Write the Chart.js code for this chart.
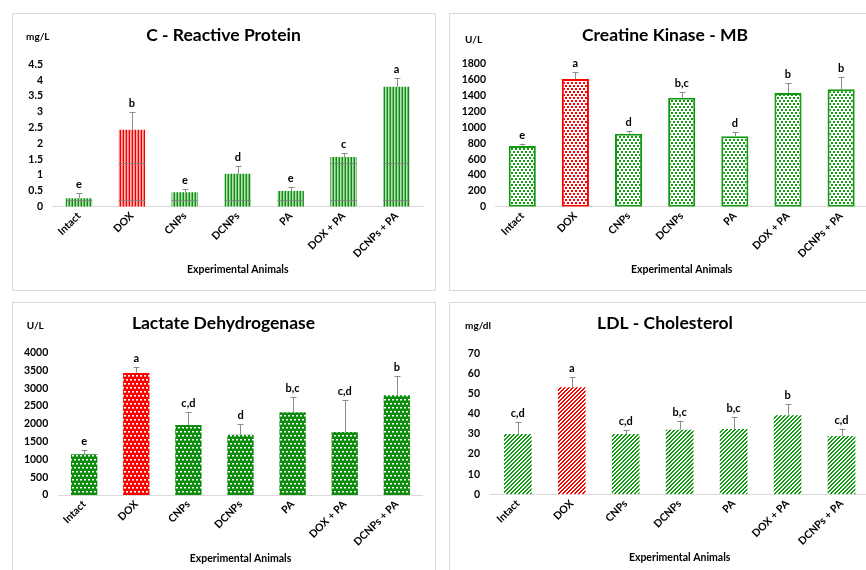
<!DOCTYPE html>
<html>
<head>
<meta charset="utf-8">
<title>Serum biomarkers</title>
<script src="https://cdn.jsdelivr.net/npm/chart.js@4.4.1/dist/chart.umd.min.js"></script>
<style>
  html, body { margin: 0; padding: 0; background: #fff; }
  body { width: 866px; height: 570px; overflow: hidden; position: relative; }
  .frame { position: absolute; border: 1px solid #d9d9d9; box-sizing: border-box; }
  canvas { position: absolute; }
</style>
</head>
<body>
<div class="frame" style="left:12px;top:13px;width:424px;height:278px"></div>
<div class="frame" style="left:449px;top:13px;width:440px;height:278px"></div>
<div class="frame" style="left:12px;top:302px;width:424px;height:300px"></div>
<div class="frame" style="left:449px;top:302px;width:440px;height:300px"></div>
<canvas id="crp"  width="423" height="277" style="left:12px;top:13px"></canvas>
<canvas id="ckmb" width="432" height="277" style="left:449px;top:13px"></canvas>
<canvas id="ldh"  width="423" height="280" style="left:12px;top:302px"></canvas>
<canvas id="ldl"  width="432" height="280" style="left:449px;top:302px"></canvas>

<script>
// ---- data ----
const groups = ['Intact', 'DOX', 'CNPs', 'DCNPs', 'PA', 'DOX + PA', 'DCNPs + PA'];

const crpMean    = [0.27, 2.43, 0.46, 1.04, 0.50, 1.57, 3.79];
const crpSD      = [0.15, 0.56, 0.09, 0.25, 0.11, 0.13, 0.28];
const crpLetters = ['e', 'b', 'e', 'd', 'e', 'c', 'a'];

const ckmbMean    = [766, 1611, 921, 1375, 888, 1434, 1481];
const ckmbSD      = [29, 84, 30, 68, 50, 126, 159];
const ckmbLetters = ['e', 'a', 'd', 'b,c', 'd', 'b', 'b'];

const ldhMean    = [1144, 3430, 1968, 1696, 2324, 1771, 2802];
const ldhSD      = [112, 159, 356, 291, 422, 899, 543];
const ldhLetters = ['e', 'a', 'c,d', 'd', 'b,c', 'c,d', 'b'];

const ldlMean    = [29.9, 53.1, 29.9, 32.1, 32.4, 39.2, 28.9];
const ldlSD      = [5.8, 5.1, 2.0, 4.4, 6.1, 5.5, 3.7];
const ldlLetters = ['c,d', 'a', 'c,d', 'b,c', 'b,c', 'b', 'c,d'];

// horizontal rules that run across the CRP bars
const crpRuleLevels = [0.21, 1.38];

// ---- colours & fill patterns ----
const GREEN = '#109a10';
const RED = '#ff0000';
const FONT = 'Lato, "Open Sans", sans-serif';

function tile(w, h, paint) {
  const c = document.createElement('canvas');
  c.width = w; c.height = h;
  const g = c.getContext('2d');
  paint(g);
  return g.createPattern(c, 'repeat');
}
function stripes(dark, light, mid) {
  return tile(3, 1, g => {
    g.fillStyle = dark;  g.fillRect(0, 0, 1, 1);
    g.fillStyle = light; g.fillRect(1, 0, 1, 1);
    g.fillStyle = mid;   g.fillRect(2, 0, 1, 1);
  });
}
function confetti(color) {
  return tile(4, 6, g => {
    g.fillStyle = '#fff'; g.fillRect(0, 0, 4, 6);
    g.fillStyle = color;
    g.fillRect(0, 0, 2, 2);
    g.fillRect(2, 3, 2, 2);
  });
}
function dottedGrid(color, soft) {
  return tile(4, 8, g => {
    g.fillStyle = color; g.fillRect(0, 0, 4, 8);
    g.fillStyle = '#fff';
    g.fillRect(0, 1, 2, 1); g.fillRect(2, 5, 2, 1);
    g.fillStyle = soft;
    g.fillRect(0, 2, 2, 1); g.fillRect(2, 6, 2, 1);
  });
}
function diagonal(color) {
  return tile(4, 4, g => {
    g.fillStyle = '#fff'; g.fillRect(0, 0, 4, 4);
    g.fillStyle = color;
    for (let y = 0; y < 4; y++)
      for (let x = 0; x < 4; x++)
        if ((x + y) % 4 < 2) g.fillRect(x, y, 1, 1);
  });
}
function perBar(redFill, greenFill) {
  return groups.map((_, i) => (i === 1 ? redFill : greenFill));
}

// ---- plugins ----
const errorBarsAndLetters = {
  id: 'errorBarsAndLetters',
  afterDatasetsDraw(chart, args, opts) {
    const ctx = chart.ctx;
    const meta = chart.getDatasetMeta(0);
    const y = chart.scales.y;
    ctx.save();
    meta.data.forEach((bar, i) => {
      // rules across the bar body
      (opts.rules || []).forEach(level => {
        if (level < opts.mean[i]) {
          const py = Math.round(y.getPixelForValue(level)) + 0.5;
          ctx.strokeStyle = 'rgba(128,128,128,0.8)';
          ctx.lineWidth = 1;
          ctx.beginPath();
          ctx.moveTo(bar.x - bar.width / 2, py);
          ctx.lineTo(bar.x + bar.width / 2, py);
          ctx.stroke();
        }
      });
      const top = y.getPixelForValue(opts.mean[i] + opts.sd[i]);
      const x = Math.round(bar.x) + 0.5;
      ctx.strokeStyle = '#8c8c8c';
      ctx.lineWidth = 1;
      ctx.beginPath();
      ctx.moveTo(x, bar.y);
      ctx.lineTo(x, top);
      ctx.moveTo(x - 3, Math.round(top) + 0.5);
      ctx.lineTo(x + 3, Math.round(top) + 0.5);
      ctx.stroke();
      ctx.fillStyle = '#000';
      ctx.font = 'bold 11px ' + FONT;
      ctx.textAlign = 'center';
      ctx.textBaseline = 'bottom';
      ctx.fillText(opts.letters[i], bar.x, top - 3);
    });
    ctx.restore();
  }
};

const panelText = {
  id: 'panelText',
  afterDraw(chart, args, opts) {
    const ctx = chart.ctx;
    ctx.save();
    ctx.fillStyle = '#000';
    ctx.textBaseline = 'middle';
    ctx.font = 'bold 17.5px ' + FONT;
    ctx.textAlign = 'center';
    ctx.fillText(opts.title, chart.width / 2, opts.titleY);
    ctx.font = 'bold 10px ' + FONT;
    ctx.textAlign = 'left';
    ctx.fillText(opts.unit, opts.unitX, opts.unitY);
    ctx.restore();
  }
};

// ---- chart factory ----
function buildChart(id, cfg) {
  const canvas = document.getElementById(id);
  const W = canvas.width, H = canvas.height;
  return new Chart(canvas, {
    type: 'bar',
    data: {
      labels: groups,
      datasets: [{
        data: cfg.mean,
        backgroundColor: cfg.fill,
        borderColor: cfg.border || 'rgba(0,0,0,0)',
        borderWidth: cfg.border ? 2 : 0,
        borderSkipped: false,
        categoryPercentage: 1,
        barPercentage: cfg.barPct
      }]
    },
    options: {
      responsive: false,
      animation: false,
      devicePixelRatio: 1,
      layout: { padding: { left: 0, top: cfg.plot.top, right: W - cfg.plot.right, bottom: 0 } },
      plugins: {
        legend: { display: false },
        title: { display: false },
        tooltip: { enabled: false },
        errorBarsAndLetters: { mean: cfg.mean, sd: cfg.sd, letters: cfg.letters, rules: cfg.rules },
        panelText: { title: cfg.title, titleY: cfg.titleY, unit: cfg.unit, unitX: cfg.unitX, unitY: cfg.unitY }
      },
      scales: {
        x: {
          grid: { display: false, drawTicks: false },
          border: { display: true, color: '#d9d9d9', width: 1 },
          ticks: {
            color: '#000', font: { family: FONT, weight: 'bold', size: 10.5 },
            minRotation: 45, maxRotation: 45, padding: 3, autoSkip: false
          },
          title: {
            display: true, text: 'Experimental Animals', color: '#000',
            font: { family: FONT, weight: 'bold', size: 10.5 },
            padding: { top: 0, bottom: H - cfg.xTitleY - 6.3 }
          },
          afterFit: s => { s.height = H - cfg.plot.bottom; }
        },
        y: {
          min: 0, max: cfg.max,
          grid: { display: false, drawTicks: false },
          border: { display: false },
          ticks: {
            stepSize: cfg.step, color: '#000', padding: cfg.tickPad,
            font: { family: FONT, weight: 'bold', size: 10.5 },
            callback: v => String(v)
          },
          afterFit: s => { s.width = cfg.plot.left; }
        }
      }
    },
    plugins: [errorBarsAndLetters, panelText]
  });
}

buildChart('crp', {
  mean: crpMean, sd: crpSD, letters: crpLetters, rules: crpRuleLevels,
  fill: perBar(stripes('#f20000', '#ffb4b4', '#ff8080'), stripes('#0f8f0f', '#b8ddb8', '#6fbf6f')),
  barPct: 0.5, max: 4.5, step: 0.5, tickPad: 9.5,
  plot: { left: 40.5, right: 411, top: 51.3, bottom: 193.7 },
  title: 'C - Reactive Protein', titleY: 22, unit: 'mg/L', unitX: 14, unitY: 23.7, xTitleY: 257
});

buildChart('ckmb', {
  mean: ckmbMean, sd: ckmbSD, letters: ckmbLetters,
  fill: perBar(confetti(RED), confetti(GREEN)),
  border: perBar(RED, GREEN),
  barPct: 0.51, max: 1800, step: 200, tickPad: 9.7,
  plot: { left: 46.7, right: 418.7, top: 51, bottom: 193.7 },
  title: 'Creatine Kinase - MB', titleY: 22, unit: 'U/L', unitX: 16, unitY: 26.3, xTitleY: 257
});

buildChart('ldh', {
  mean: ldhMean, sd: ldhSD, letters: ldhLetters,
  fill: perBar(dottedGrid(RED, '#ff9a9a'), dottedGrid('#0d8c0d', '#7cc47c')),
  barPct: 0.505, max: 4000, step: 500, tickPad: 9.8,
  plot: { left: 46.1, right: 410.9, top: 50.7, bottom: 193 },
  title: 'Lactate Dehydrogenase', titleY: 21.3, unit: 'U/L', unitX: 14.7, unitY: 24, xTitleY: 256.3
});

buildChart('ldl', {
  mean: ldlMean, sd: ldlSD, letters: ldlLetters,
  fill: perBar(diagonal(RED), diagonal(GREEN)),
  barPct: 0.513, max: 70, step: 10, tickPad: 10.8,
  plot: { left: 41.8, right: 419.5, top: 51.3, bottom: 192.3 },
  title: 'LDL - Cholesterol', titleY: 21.3, unit: 'mg/dl', unitX: 16, unitY: 23.3, xTitleY: 255.7
});
</script>
</body>
</html>
